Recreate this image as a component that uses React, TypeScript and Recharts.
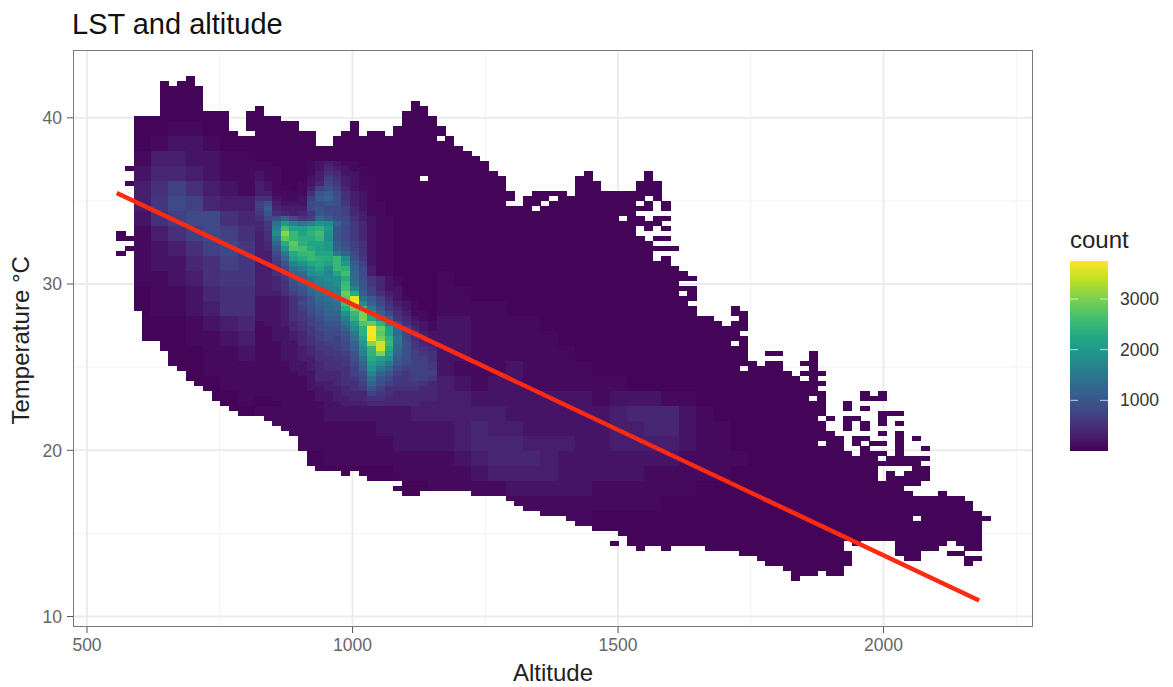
import React from "react";
import { ScatterChart, Scatter, XAxis, YAxis, CartesianGrid } from "recharts";

const title = "LST and altitude";
const xTitle = "Altitude";
const yTitle = "Temperature °C";
const legendTitle = "count";
const xTicks = [500, 1000, 1500, 2000];
const yTicks = [10, 20, 30, 40];
const xMinor = [750, 1250, 1750, 2250];
const yMinor = [15, 25, 35];
const legendTicks = [1000, 2000, 3000];
const fitAltitude = [556, 2180];
const fitTemperature = [35.48, 10.96];

// bin centres: altitude bin 0 and width, temperature bin 0 and height
const ALT0 = 564.05, ALT_STEP = 16.29, TEMP0 = 42.37, TEMP_STEP = 0.3008;

// first and last occupied temperature bin in every altitude bin (-1: only binExtra)
const binTop = [-1,-1,8,8,8,1,2,1,0,2,7,7,7,11,12,7,6,8,8,9,9,11,11,14,14,12,11,9,12,11,11,12,10,7,5,6,8,10,12,14,15,16,17,19,20,23,26,24,23,23,23,23,24,20,19,21,23,23,23,23,21,19,21,25,34,39,40,48,48,49,50,46,47,57,58,55,55,59,60,57,55,59,68,72,65,68,63,64,63,67,67,76,72,74,84,83,84,84,85,87,88];
const binLast = [-1,-1,46,52,52,54,57,58,60,61,62,64,65,66,67,67,67,68,69,70,71,74,77,78,78,78,79,78,79,80,80,80,82,83,83,82,82,82,82,82,82,83,83,83,83,84,85,86,86,87,87,87,88,89,89,90,90,90,91,93,94,93,93,94,93,93,93,93,94,94,94,94,95,95,96,97,97,98,100,99,99,98,99,99,97,93,92,92,92,92,95,96,96,94,94,93,92,93,94,94,88];
const binGaps: [number, number[]][] = [
  [15,[11]],[32,[81]],[35,[20]],[37,[12]],[45,[25]],[48,[26]],[49,[25]],[50,[24]],[58,[28]],
  [60,[25,27,30,31]],[61,[24,27,28,31,32]],[62,[25,26,27,30,31,33,35,36]],[63,[27,29,31,33,35]],
  [64,[35,36,37]],[65,[41,43]],[66,[41,45]],[71,[48,53]],[72,[51,58]],[75,[56]],[76,[56]],
  [79,[58,60]],[80,[64]],[81,[60,62,68,73]],[82,[69,70]],
  [84,[67,71,72,73,74,93,94]],[85,[69,70,71,74,75]],[86,[65,67,68,71,73]],[87,[65,66,67,68,69,70,71,72,74]],
  [88,[65,66,70,72,74,76,78,79,80]],[89,[68,69,70,71,72,73,74,75,78]],[90,[68,70,78,79]],[91,[78,82]],
  [92,[73,74,75,82,83,88]],[93,[75,77,81,82,83]],
];
const binExtra: [number, number[]][] = [
  [0,[31,32,35]],[1,[18,21,32,34]],[57,[93]],[96,[95]],[97,[95]],[98,[96,97]],[99,[96]],
];

// counts in hundreds, 2x3 bin blocks, left of the ridge
const leftCounts = [
  "000000000","000000000","000000000","000110000","001221000","013322110","024432111","035753211",
  "036874332","025788543","013578754","012357864","012245765","011235665","001124554","001123554",
  "000012343","000011233","000001122","000001112","000000112","000000011","000000001",
];
// blocks below the ridge, starting at block row 22
const midCounts = ["1112222233","1111112222","1111111222","0001111111","0000000111","0000000001"];
// blocks right of the ridge, starting at block row 13
const rightCounts = [
  "100000000000000000","110000000000000000","111100000000000000","221111000000000000",
  "221111100000000000","221111110000000000","211121111000000000","321221111110000000",
  "332222222122211000","333322222234442100","234332222233442110","234443332233332110",
  "123444322222221111","112333322222111110","111122222111111000","001111111111100000",
  "000000111000000000",
];
// counts in hundreds, single bins: altitude bins 16-36, temperature bins 17-65
const ridgeCounts = [
  "110000123211000000000","111000124321100000000","211000135422100000000","211000237532110000000",
  "321001248632110000000","321101379742110000000","3311115ab853210000000","5521127bc953210000000",
  "79322289a963211000000","7b43338a8874211000000","6a54346a9874311000000","589c867db985321100000",
  "46ekgfgjic96421100000","46gqmlnoka86421100000","35ivpmoqja86421100000","35fspnnpia86421100000",
  "34cnsommkb97521100000","34akrqnlkca7521100000","338fnppmmfc8521100000","337clnponpi9621100000",
  "336ahjmnlpkb721100000","3358egjmipoc831100000","3357cdijhmqd831100000","3346acfhiind964210000",
  "33459beghipea64210000","33458adfghqha74220000","333579cefhtnb75320000","222357adegsAeb7421000",
  "222358acdeqCic8532100","2223579bcdntqfa642100","2223568accjpukc853110","22235679bbgoumhb64210",
  "12234578aaekrtog85321","1122456899cioBtmd7421","1122346788afoCsmd8532","11223457879emBuof8532",
  "11122456778ckvzpe9643","11122346678bipznd9654","11122345667agoulc9765","111223355669enljb9775",
  "111122345568clifa8776","111122345557bjfc87776","1111122444579hca76777","1111112444568ea866776",
  "1111112334557c9766654","1111112233456a7555544","111111122344476544444",
  "001111122334455444444","000111112233344444433",
];

const DIGITS = "0123456789abcdefghijklmnopqrstuvwxyzABC";
const hundreds = (ch: string | undefined) => {
  const i = ch ? DIGITS.indexOf(ch) : 0;
  return i <= 0 ? 40 : i * 100;
};
const countAt = (c: number, r: number) => {
  if (c >= 16 && c <= 36 && r >= 17 && r <= 65) return hundreds(ridgeCounts[r - 17]?.[c - 16]);
  const b = Math.floor(r / 3);
  if (c < 18) return hundreds(leftCounts[b]?.[Math.floor(c / 2)]);
  if (c <= 36) return hundreds(midCounts[b - 22]?.[Math.floor(c / 2) - 9]);
  return hundreds(rightCounts[b - 13]?.[Math.floor((c + 1) / 2) - 19]);
};

const cells: { altitude: number; temperature: number; count: number }[] = [];
const push = (c: number, r: number) =>
  cells.push({ altitude: ALT0 + ALT_STEP * c, temperature: TEMP0 - TEMP_STEP * r, count: countAt(c, r) });
binTop.forEach((top, c) => {
  if (top < 0) return;
  const gaps = binGaps.find((g) => g[0] === c)?.[1] ?? [];
  for (let r = top; r <= binLast[c]; r++) if (!gaps.includes(r)) push(c, r);
});
binExtra.forEach(([c, rows]) => rows.forEach((r) => push(c, r)));
const fitLine = fitAltitude.map((altitude, i) => ({ altitude, temperature: fitTemperature[i] }));

const MAX_COUNT = 3750;
const VIRIDIS = ["#440154","#482475","#414487","#355f8d","#2a788e","#21918c","#22a884","#44bf70","#7ad151","#bddf26","#fde725"];
const hex = (s: string) => [1, 3, 5].map((i) => parseInt(s.slice(i, i + 2), 16));
const colour = (count: number) => {
  const t = Math.min(1, count / MAX_COUNT) * (VIRIDIS.length - 1);
  const i = Math.min(VIRIDIS.length - 2, Math.floor(t));
  const a = hex(VIRIDIS[i]), b = hex(VIRIDIS[i + 1]);
  const m = a.map((v, k) => Math.round(v + (b[k] - v) * (t - i)));
  return `rgb(${m[0]},${m[1]},${m[2]})`;
};

const FONT = '"Liberation Sans", Arial, sans-serif';
const CELL_W = 9.1, CELL_H = 5.4;
const Cell = (p: any) => (
  <rect x={p.cx - CELL_W / 2} y={p.cy - CELL_H / 2} width={CELL_W} height={CELL_H} fill={colour(p.payload.count)} shapeRendering="crispEdges" />
);
const NoPoint = () => null;

export default function App() {
  return (
    <div style={{ position: "absolute", left: 0, top: 0, width: 1173, height: 687, fontFamily: FONT, background: "#fff" }}>
      <div style={{ position: "absolute", left: 72, top: 7, fontSize: 29, color: "#111", lineHeight: "34px", whiteSpace: "nowrap" }}>{title}</div>
      <ScatterChart width={1173} height={687} margin={{ top: 50, right: 140, bottom: 0, left: 0 }}>
        <CartesianGrid stroke="#f3f3f3" strokeWidth={1} horizontalValues={yMinor} verticalValues={xMinor} />
        <CartesianGrid stroke="#ececec" strokeWidth={2} horizontalValues={yTicks} verticalValues={xTicks} />
        <XAxis type="number" dataKey="altitude" domain={[473.6, 2281.4]} ticks={xTicks} height={60} allowDataOverflow
          tick={{ fill: "#666", fontSize: 17.5, fontFamily: FONT }} tickSize={6} tickMargin={6} tickLine={{ stroke: "#555" }} axisLine={false}
          label={{ value: xTitle, position: "insideBottom", offset: 6, fill: "#222", fontSize: 24, fontFamily: FONT }} />
        <YAxis type="number" dataKey="temperature" domain={[9.37, 44.08]} ticks={yTicks} width={73} allowDataOverflow
          tick={{ fill: "#666", fontSize: 17.5, fontFamily: FONT }} tickSize={6} tickMargin={5} tickLine={{ stroke: "#555" }} axisLine={false}
          label={{ value: yTitle, angle: -90, position: "insideLeft", offset: 20, dy: 86, fill: "#222", fontSize: 24, fontFamily: FONT }} />
        <Scatter data={cells} isAnimationActive={false} shape={Cell} />
        <Scatter data={fitLine} isAnimationActive={false} shape={NoPoint} line={{ stroke: "#ff2a12", strokeWidth: 4.5 }} />
      </ScatterChart>
      <div style={{ position: "absolute", left: 73, top: 50, width: 960, height: 577, boxSizing: "border-box", border: "1px solid #7a7a7a", pointerEvents: "none" }} />
      <svg style={{ position: "absolute", left: 1050, top: 220 }} width={123} height={240}>
        <defs>
          <linearGradient id="vir" x1="0" y1="1" x2="0" y2="0">
            {VIRIDIS.map((c, i) => <stop key={c} offset={i / (VIRIDIS.length - 1)} stopColor={c} />)}
          </linearGradient>
        </defs>
        <text x={20} y={28} fontSize={24} fill="#222" fontFamily={FONT}>{legendTitle}</text>
        <rect x={20} y={41} width={38} height={190} fill="url(#vir)" />
        {legendTicks.map((t) => {
          const y = 231 - (t / MAX_COUNT) * 190;
          return (
            <g key={t}>
              <line x1={20} x2={28} y1={y} y2={y} stroke="#fff" strokeOpacity={0.7} />
              <line x1={50} x2={58} y1={y} y2={y} stroke="#fff" strokeOpacity={0.7} />
              <text x={70} y={y + 6} fontSize={17.5} fill="#333" fontFamily={FONT}>{t}</text>
            </g>
          );
        })}
      </svg>
    </div>
  );
}
